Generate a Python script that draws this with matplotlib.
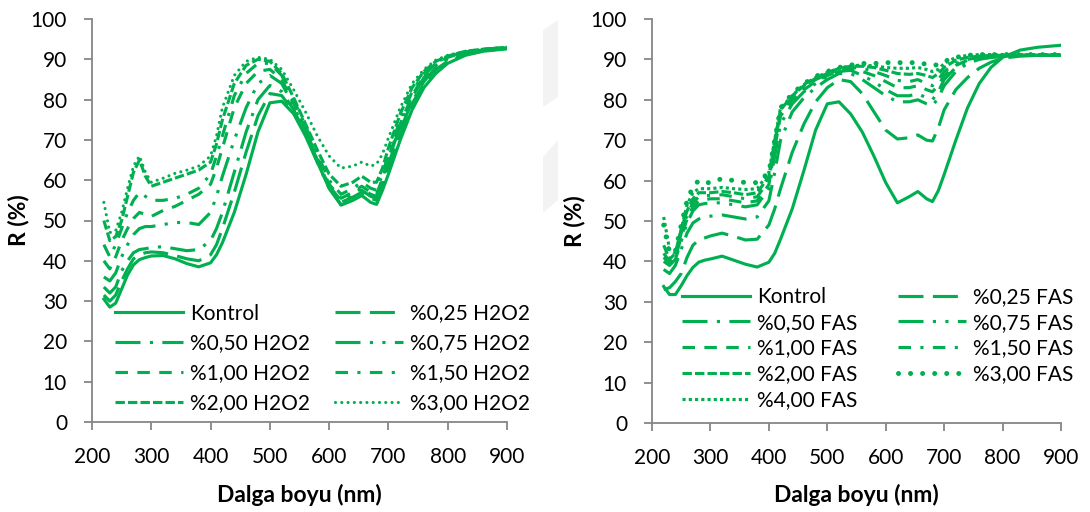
"""
Reflectance spectra of H2O2 and FAS treated samples, two panels side by side.
"""

import matplotlib
matplotlib.use('Agg')
import matplotlib.pyplot as plt
from matplotlib.patches import Polygon

plt.rcParams['font.family'] = ['Lato', 'DejaVu Sans']

GREEN     = '#00B050'
AXIS_GREY = '#868686'
FS        = 15

# ── Data ────────────────────────────────────────────────────
wl = [220, 230, 240, 250, 260, 270, 280, 290, 300, 320, 340, 360, 380, 400,
      410, 420, 440, 460, 480, 500, 520, 540, 560, 580, 600, 620, 640, 655,
      670, 680, 690, 700, 720, 740, 760, 780, 800, 830, 860, 900]

# left panel: H2O2
h2o2_kontrol = [30.5, 28.5, 29.5, 33.0, 36.5, 39.0, 40.3, 40.8, 41.2, 41.3, 40.5, 39.3, 38.5, 39.5,
                41.5, 44.5, 52.0, 61.5, 72.0, 79.2, 79.6, 76.5, 71.0, 64.5, 58.0, 53.8, 55.0, 56.2,
                54.5, 54.0, 57.5, 61.5, 70.0, 77.5, 83.0, 86.5, 89.0, 91.0, 92.0, 92.6]
h2o2_025 = [31.5, 30.0, 31.5, 35.0, 38.0, 40.5, 41.5, 42.0, 42.2, 42.0, 41.3, 40.5, 40.0, 41.5,
            44.0, 48.0, 57.0, 67.0, 76.0, 81.5, 81.0, 77.0, 71.5, 65.0, 58.5, 54.5, 55.8, 57.0,
            55.5, 55.0, 58.5, 63.0, 71.5, 79.0, 84.0, 87.5, 89.5, 91.2, 92.1, 92.7]
h2o2_050 = [33.5, 32.0, 33.5, 37.5, 40.0, 42.0, 42.8, 43.0, 43.3, 43.5, 43.0, 42.5, 42.8, 45.0,
            48.0, 52.0, 62.0, 72.0, 80.0, 83.5, 82.0, 77.5, 71.5, 64.5, 58.0, 54.0, 56.0, 57.5,
            56.0, 55.5, 59.0, 64.0, 72.5, 79.5, 84.5, 88.0, 90.0, 91.5, 92.2, 92.8]
h2o2_075 = [36.0, 35.0, 37.0, 41.0, 44.0, 46.5, 48.0, 48.5, 48.5, 49.0, 49.5, 49.5, 49.0, 52.0,
            56.0, 61.0, 70.0, 78.0, 84.0, 86.0, 84.0, 78.5, 72.0, 65.0, 58.5, 55.0, 56.5, 58.0,
            56.5, 56.0, 60.0, 65.0, 73.5, 80.5, 85.5, 88.5, 90.3, 91.7, 92.3, 92.8]
h2o2_100 = [40.0, 38.0, 41.0, 45.0, 48.0, 50.5, 52.0, 51.5, 51.0, 52.5, 53.5, 55.0, 56.5, 59.0,
            63.0, 68.0, 78.0, 84.0, 87.0, 87.5, 85.0, 79.0, 72.5, 65.5, 59.0, 55.5, 57.0, 58.5,
            57.0, 56.5, 60.5, 65.5, 74.0, 81.0, 86.0, 89.0, 90.5, 91.8, 92.4, 92.9]
h2o2_150 = [44.0, 41.0, 44.0, 48.0, 52.0, 55.0, 57.0, 56.0, 55.0, 55.0, 55.5, 56.5, 58.0, 61.5,
            66.0, 71.0, 81.0, 86.5, 89.0, 89.0, 86.0, 80.0, 73.5, 66.5, 60.0, 56.5, 58.0, 59.5,
            58.0, 57.5, 61.5, 66.5, 75.0, 82.0, 86.5, 89.2, 90.7, 91.9, 92.5, 92.9]
h2o2_200 = [50.0, 45.0, 46.0, 50.0, 56.0, 62.0, 65.0, 61.0, 58.5, 59.5, 60.5, 61.5, 62.5, 64.5,
            69.0, 75.0, 84.0, 88.5, 90.0, 89.5, 86.5, 80.5, 74.0, 67.5, 61.5, 58.5, 59.5, 61.0,
            59.5, 59.5, 63.0, 68.0, 76.5, 83.0, 87.0, 89.5, 90.8, 92.0, 92.5, 93.0]
h2o2_300 = [54.5, 47.0, 47.5, 52.0, 58.0, 63.5, 66.0, 62.0, 59.5, 60.5, 61.7, 62.5, 63.5, 66.0,
            71.0, 78.0, 86.0, 89.5, 90.5, 90.0, 87.5, 82.5, 77.0, 71.0, 66.0, 63.0, 63.5, 64.5,
            63.5, 64.0, 66.5, 70.5, 78.0, 84.0, 87.5, 89.8, 91.0, 92.0, 92.5, 93.0]

# right panel: FAS
fas_kontrol = [33.8, 31.8, 31.8, 34.0, 36.5, 38.5, 39.8, 40.3, 40.6, 41.3, 40.3, 39.3, 38.6, 39.8,
               42.0, 45.5, 53.0, 62.5, 72.5, 79.0, 79.5, 76.5, 72.0, 66.0, 59.5, 54.5, 56.0, 57.3,
               55.5, 54.8, 57.5, 61.5, 70.0, 78.0, 84.0, 88.0, 90.5, 92.3, 93.0, 93.5]
fas_025 = [33.0, 33.5, 35.0, 37.0, 41.0, 44.0, 45.3, 45.8, 46.3, 47.0, 46.2, 45.3, 45.5, 49.0,
           53.0, 58.0, 67.0, 74.0, 79.5, 83.0, 85.0, 84.5, 81.5, 77.0, 72.5, 70.3, 70.6, 71.3,
           70.0, 69.8, 73.0, 77.5, 82.5, 85.5, 87.8, 89.3, 90.3, 90.8, 91.0, 91.0]
fas_050 = [38.0, 37.0, 39.0, 43.0, 47.0, 49.5, 50.5, 51.0, 51.2, 51.5, 51.0, 50.5, 51.0, 55.0,
           62.0, 70.0, 77.0, 80.5, 83.0, 85.0, 86.5, 86.5, 85.0, 83.0, 81.0, 79.5, 79.5, 80.0,
           79.0, 78.5, 80.5, 83.5, 87.0, 89.0, 90.0, 90.5, 90.8, 91.0, 91.0, 91.0]
fas_075 = [40.0, 39.0, 40.5, 45.0, 49.5, 52.5, 54.0, 54.3, 54.5, 54.5, 54.0, 53.5, 54.0, 58.0,
           66.0, 74.0, 79.0, 82.0, 84.0, 85.8, 87.0, 87.3, 86.0, 84.5, 82.5, 81.0, 81.0, 81.5,
           80.5, 80.0, 82.0, 85.0, 88.0, 89.5, 90.2, 90.5, 90.8, 91.0, 91.0, 91.0]
fas_100 = [41.0, 39.5, 41.0, 46.0, 50.5, 53.5, 55.0, 55.3, 55.5, 55.5, 55.0, 54.5, 55.0, 59.0,
           68.0, 76.0, 80.0, 82.5, 84.5, 86.0, 87.2, 87.8, 87.0, 86.0, 84.5, 83.0, 83.0, 83.5,
           82.5, 82.0, 83.5, 86.0, 88.5, 89.8, 90.4, 90.7, 90.9, 91.0, 91.0, 91.0]
fas_150 = [42.0, 40.0, 41.5, 47.0, 51.5, 54.5, 56.0, 56.3, 56.3, 56.5, 56.0, 55.5, 56.0, 60.0,
           69.0, 77.0, 80.5, 83.0, 85.0, 86.3, 87.5, 88.0, 87.8, 87.0, 86.0, 84.8, 84.5, 85.0,
           84.0, 83.5, 85.0, 87.0, 89.0, 90.0, 90.5, 90.8, 90.9, 91.0, 91.0, 91.0]
fas_200 = [44.0, 40.5, 42.0, 48.0, 52.5, 55.5, 57.0, 57.0, 57.0, 57.3, 57.0, 56.5, 57.0, 61.0,
           70.0, 77.5, 81.0, 83.5, 85.3, 86.5, 87.8, 88.3, 88.3, 88.0, 87.3, 86.5, 86.3, 86.5,
           86.0, 85.5, 86.5, 88.0, 89.8, 90.5, 90.8, 91.0, 91.0, 91.0, 91.0, 91.0]
fas_300 = [49.0, 42.0, 42.5, 49.0, 55.0, 58.5, 60.0, 59.5, 59.5, 60.5, 60.0, 59.5, 59.5, 62.0,
           70.0, 78.0, 81.5, 84.0, 85.8, 87.0, 88.0, 88.6, 89.0, 89.0, 89.2, 89.2, 89.2, 89.2,
           88.8, 88.5, 88.7, 89.5, 90.5, 91.0, 91.2, 91.2, 91.2, 91.2, 91.2, 91.2]
fas_400 = [51.0, 43.0, 42.0, 48.0, 54.0, 57.0, 58.0, 58.0, 58.0, 58.3, 58.0, 57.8, 58.0, 62.0,
           70.0, 78.0, 81.0, 83.8, 85.5, 86.8, 87.8, 88.4, 88.6, 88.4, 88.0, 87.8, 87.8, 88.0,
           87.5, 87.0, 87.5, 89.0, 90.5, 91.0, 91.2, 91.2, 91.2, 91.2, 91.2, 91.2]

h2o2_labels = ['Kontrol', '%0,25 H2O2', '%0,50 H2O2', '%0,75 H2O2',
               '%1,00 H2O2', '%1,50 H2O2', '%2,00 H2O2', '%3,00 H2O2']
fas_labels  = ['Kontrol', '%0,25 FAS', '%0,50 FAS', '%0,75 FAS', '%1,00 FAS',
               '%1,50 FAS', '%2,00 FAS', '%3,00 FAS', '%4,00 FAS']

# ── Excel-like line styles ─────────────────────────────────
LW = 2.25
S_SOLID   = dict(ls='-')
S_LGDASH  = dict(ls=(0, (8, 3)))
S_LGDD    = dict(ls=(0, (8, 3, 1, 3)))
S_LGDDD   = dict(ls=(0, (8, 3, 1, 3, 1, 3)))
S_DASH    = dict(ls=(0, (4, 3)))
S_DASHDOT = dict(ls=(0, (4, 3, 1, 3)))
S_SYSDASH = dict(ls=(0, (3, 1)))
S_RDOT    = dict(ls=(0, (0.01, 2)), dash_capstyle='round')
S_SQDOT   = dict(ls=(0, (1, 1)))
S_BIGDOT  = dict(ls=(0, (0.01, 2.4)), dash_capstyle='round', lw=3.6)

h2o2_styles = [S_SOLID, S_LGDASH, S_LGDD, S_LGDDD, S_DASH, S_DASHDOT, S_SYSDASH, S_RDOT]
fas_styles  = [S_SOLID, S_LGDASH, S_LGDD, S_LGDDD, S_DASH, S_DASHDOT, S_SYSDASH,
               S_BIGDOT, S_SQDOT]


def draw_panel(ax, series, labels, styles, leg_x, leg_y, spacing):
    lines = []
    for vals, lab, st in zip(series, labels, styles):
        kw = dict(color=GREEN, lw=LW)
        kw.update(st)
        ln, = ax.plot(wl, vals, label=lab, **kw)
        lines.append(ln)

    ax.set_xlim(200, 900)
    ax.set_ylim(0, 100)
    ax.set_xticks(range(200, 901, 100))
    ax.set_yticks(range(0, 101, 10))
    for side in ('top', 'right'):
        ax.spines[side].set_visible(False)
    for side in ('left', 'bottom'):
        ax.spines[side].set_color(AXIS_GREY)
        ax.spines[side].set_linewidth(1.3)
    ax.tick_params(direction='out', length=6, width=1.3, color=AXIS_GREY,
                   labelsize=FS, pad=12)
    ax.set_xlabel('Dalga boyu (nm)', fontsize=16.5, fontweight='bold')
    ax.set_ylabel('R (%)', fontsize=16.5, fontweight='bold')

    # Excel fills the legend row by row -> two stacked columns here
    common = dict(frameon=False, fontsize=FS, handlelength=3.27,
                  handletextpad=0.34, borderpad=0, borderaxespad=0,
                  labelspacing=spacing, loc='upper left')
    leg1 = ax.legend(lines[0::2], labels[0::2],
                     bbox_to_anchor=(leg_x[0], leg_y), **common)
    ax.add_artist(leg1)
    ax.legend(lines[1::2], labels[1::2],
              bbox_to_anchor=(leg_x[1], leg_y), **common)


def main():
    fig = plt.figure(figsize=(10.9, 5.12), dpi=100)

    ax1 = fig.add_axes([92 / 1090, 90 / 512, 415 / 1090, 403 / 512])
    ax2 = fig.add_axes([652 / 1090, 89 / 512, 409 / 1090, 404 / 512])

    draw_panel(ax1,
               [h2o2_kontrol, h2o2_025, h2o2_050, h2o2_075,
                h2o2_100, h2o2_150, h2o2_200, h2o2_300],
               h2o2_labels, h2o2_styles,
               leg_x=(0.0554, 0.5855), leg_y=0.294, spacing=0.48)
    draw_panel(ax2,
               [fas_kontrol, fas_025, fas_050, fas_075, fas_100,
                fas_150, fas_200, fas_300, fas_400],
               fas_labels, fas_styles,
               leg_x=(0.0726, 0.602), leg_y=0.337, spacing=0.28)

    ax1.xaxis.set_label_coords(0.5, -0.153)
    ax2.xaxis.set_label_coords(0.5, -0.150)
    ax1.yaxis.set_label_coords(-0.15, 0.5)
    ax2.yaxis.set_label_coords(-0.163, 0.5)

    # faint watermark shapes between the panels
    for pts in ([(543, 30), (558, 20), (558, 97), (543, 107)],
                [(543, 157), (558, 140), (558, 200), (543, 213)]):
        fig.patches.append(Polygon([(x / 1090, 1 - y / 512) for x, y in pts],
                                   closed=True, transform=fig.transFigure,
                                   facecolor='#f3f3f3', edgecolor='none'))

    fig.savefig('out.png', dpi=100)


if __name__ == '__main__':
    main()
